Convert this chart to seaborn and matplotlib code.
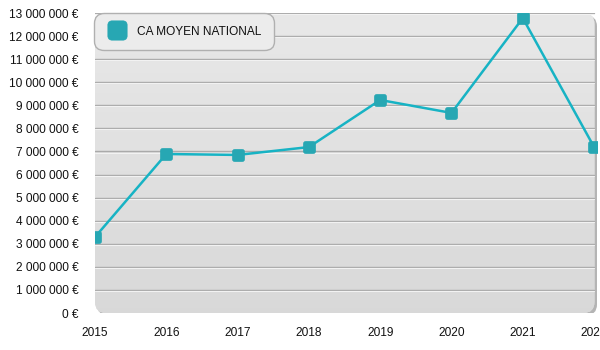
import numpy as np
import pandas as pd
import seaborn as sns
import matplotlib.pyplot as plt
from matplotlib.patches import FancyBboxPatch, BoxStyle
from matplotlib.lines import Line2D
from matplotlib.ticker import FuncFormatter, MultipleLocator

years = [2015, 2016, 2017, 2018, 2019, 2020, 2021, 2022]
ca_moyen = [3290000, 6890000, 6850000, 7190000, 9230000, 8670000, 12780000, 7190000]
series_label = "CA MOYEN NATIONAL"

df = pd.DataFrame({"annee": years, "ca": ca_moyen})

sns.set_theme(style="white")
plt.rcParams["font.family"] = ["Liberation Sans", "DejaVu Sans"]

LINE = "#17b3c4"
MARK = "#27a7b3"

# square marker with rounded corners
rounded_square = BoxStyle.Round(pad=0, rounding_size=0.22)(-0.5, -0.5, 1, 1, 1.0)

fig = plt.figure(figsize=(6, 3.5), dpi=100)
ax = fig.add_axes([95 / 600, 37 / 350, 502 / 600, 300 / 350])
ax.set_xlim(2015, 2015 + 502 / 71.3)
ax.set_ylim(0, 13_000_000)
ax.patch.set_visible(False)

# rounded plot panel: shadow, then vertical gradient clipped to the panel
shadow = FancyBboxPatch((0.004, -0.008), 0.996, 1.0,
                        boxstyle="round,pad=0,rounding_size=0.022",
                        transform=ax.transAxes, facecolor="#b4b4b4",
                        edgecolor="none", zorder=0, mutation_aspect=502 / 300)
ax.add_patch(shadow)
panel = FancyBboxPatch((0, 0), 0.995, 1.0,
                       boxstyle="round,pad=0,rounding_size=0.022",
                       transform=ax.transAxes, facecolor="#e2e2e2",
                       edgecolor="none", zorder=0.5, mutation_aspect=502 / 300)
ax.add_patch(panel)
grad = np.linspace(0.91, 0.85, 256).reshape(-1, 1)
img = ax.imshow(np.dstack([grad, grad, grad]), extent=[0, 0.995, 0, 1],
                transform=ax.transAxes, aspect="auto", zorder=0.6,
                interpolation="bilinear")
img.set_clip_path(panel)

# horizontal grid lines with a light highlight below each
for v in range(1_000_000, 13_000_001, 1_000_000):
    ax.axhline(v, color="#aaaaaa", lw=1.0, zorder=1, xmax=0.995)
    ax.axhline(v - 45000, color="#f2f2f2", lw=0.8, zorder=1, xmax=0.995)

sns.lineplot(data=df, x="annee", y="ca", ax=ax, color=LINE, lw=1.8,
             marker=rounded_square, markersize=9, markerfacecolor=MARK,
             markeredgecolor=MARK, markeredgewidth=0.3, zorder=3, legend=False)

for s in ax.spines.values():
    s.set_visible(False)

ax.yaxis.set_major_locator(MultipleLocator(1_000_000))
ax.yaxis.set_major_formatter(
    FuncFormatter(lambda v, p: f"{int(round(v)):,}".replace(",", " ") + " €"))
ax.set_xticks(years)
ax.set_xticklabels([str(y) for y in years])
ax.tick_params(axis="both", length=0, labelsize=8.6, colors="#111111")
ax.tick_params(axis="y", pad=12)
ax.tick_params(axis="x", pad=10)
ax.set_xlabel("")
ax.set_ylabel("")

handle = Line2D([], [], linestyle="none", marker=rounded_square, markersize=14,
                markerfacecolor=MARK, markeredgecolor=MARK, markeredgewidth=0.3)
leg = ax.legend([handle], [series_label], loc="upper left",
                bbox_to_anchor=(94 / 600, 1 - 13 / 350),
                bbox_transform=fig.transFigure, borderaxespad=0,
                frameon=True, fancybox=True,
                fontsize=8.6, handletextpad=0.85, borderpad=1.05,
                handlelength=1.7, labelcolor="#111111")
fr = leg.get_frame()
fr.set_facecolor("#ececec")
fr.set_edgecolor("#b0b0b0")
fr.set_alpha(1)
fr.set_linewidth(1.0)
fr.set_boxstyle("round,pad=0,rounding_size=0.8")
leg.set_zorder(5)

fig.savefig("out.png", dpi=100)
